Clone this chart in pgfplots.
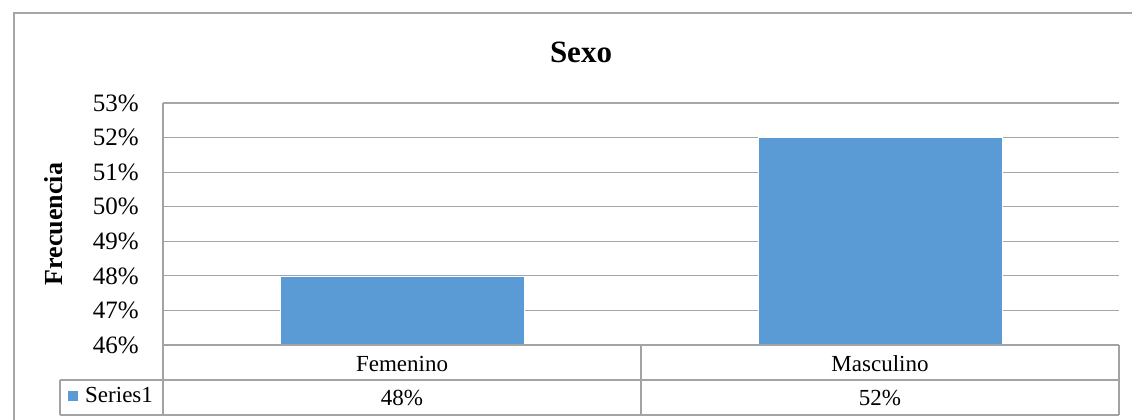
\documentclass[border=0pt]{standalone}
\usepackage{pgfplots}
\pgfplotsset{compat=1.18}
\usepackage{fontspec}
\setmainfont{Liberation Serif}
\definecolor{barblue}{RGB}{91,155,213}
\definecolor{linegray}{RGB}{166,166,166}
\definecolor{tablegray}{RGB}{160,164,166}
\begin{document}
\begin{tikzpicture}[x=1pt,y=1pt]
\useasboundingbox (0,0) rectangle (1132,420);
\begin{scope}
\clip (0,0) rectangle (1132,420);
\draw[linegray, line width=1.3pt] (14,-10) -- (14,407) -- (1150,407);
\end{scope}
\node[font=\bfseries\fontsize{31}{36}\selectfont, anchor=base, inner sep=0pt] at (581,357) {Sexo};
\begin{axis}[
  at={(163pt,75pt)}, anchor=south west,
  scale only axis, width=956pt, height=242pt,
  xmin=-0.5, xmax=1.5, ymin=46, ymax=53,
  ytick={46,47,48,49,50,51,52,53},
  yticklabel={\pgfmathprintnumber{\tick}\%},
  /pgf/number format/assume math mode=true,
  xtick={0,1}, xticklabels={Femenino,Masculino},
  extra x ticks={0,1}, extra x tick labels={48\%,52\%},
  extra x tick style={xticklabel style={yshift=-33pt}},
  xticklabel style={font=\fontsize{23}{28}\selectfont, anchor=base, inner sep=0pt, yshift=-27pt},
  yticklabel style={font=\fontsize{25}{30}\selectfont, anchor=east, inner sep=0pt, xshift=-24pt},
  major tick length=0pt,
  axis lines*=left,
  axis line style={tablegray, line width=1.5pt, -},
  ymajorgrids,
  grid style={linegray, line width=1.2pt},
  ylabel={Frecuencia},
  ylabel style={font=\bfseries\fontsize{26}{30}\selectfont, at={(axis description cs:-0.114,0.5)}, anchor=center, inner sep=0pt},
]
\addplot[ybar, bar width=244pt, fill=barblue, draw=white, line width=0.6pt] coordinates {(0,48) (1,52)};
\end{axis}
\draw[tablegray, line width=1.5pt] (163,75) -- (163,5);
\draw[tablegray, line width=1.5pt] (641,75) -- (641,5);
\draw[tablegray, line width=1.5pt] (1119,75) -- (1119,5);
\draw[tablegray, line width=1.5pt] (163,75) -- (1119,75);
\draw[tablegray, line width=1.5pt] (60,40) -- (1119,40);
\draw[tablegray, line width=1.5pt] (60,5) -- (1119,5);
\draw[tablegray, line width=1.5pt] (60,40) -- (60,5);
\fill[barblue] (68,19) rectangle (78,29);
\node[anchor=base west, inner sep=0pt, font=\fontsize{23}{28}\selectfont] at (85,17) {Series1};
\end{tikzpicture}
\end{document}
